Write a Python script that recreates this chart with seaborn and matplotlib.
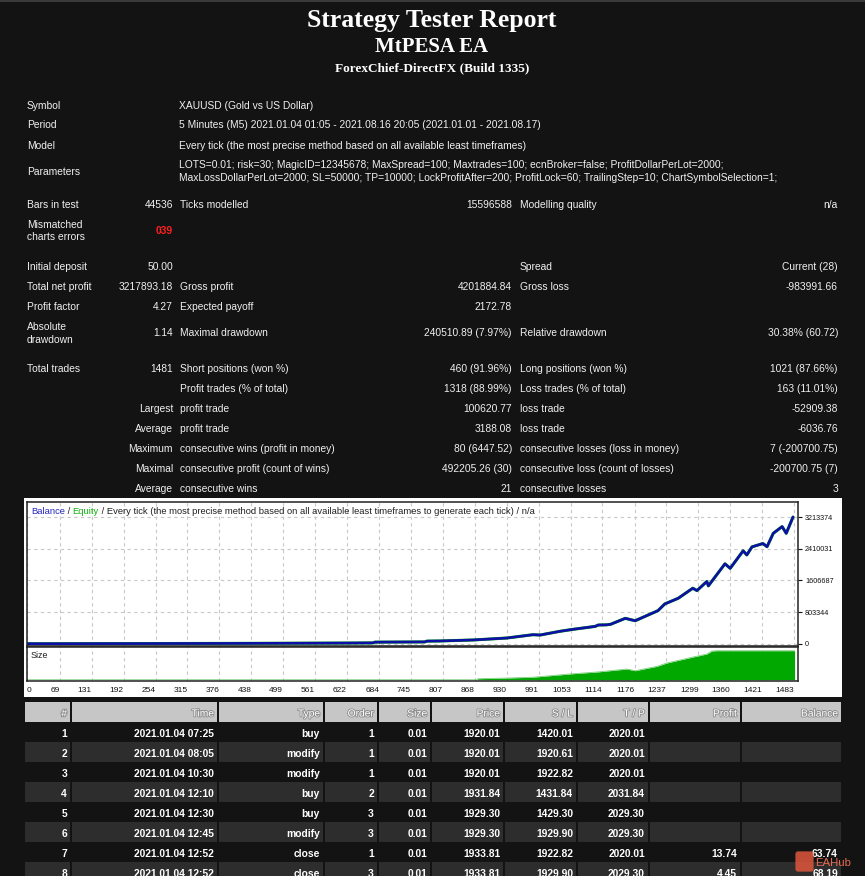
import numpy as np
import pandas as pd
import seaborn as sns
import matplotlib.pyplot as plt
import matplotlib.patheffects as pe
from matplotlib import font_manager
from matplotlib.patches import Rectangle, FancyBboxPatch


# balance curve (trade number -> balance)
trade_idx = [0, 120, 250, 380, 500, 620, 672, 676, 772, 776,
             801, 865, 930, 980, 994, 1032, 1057, 1100, 1106, 1122,
             1130, 1158, 1177, 1221, 1234, 1260, 1288, 1296, 1315, 1318,
             1350, 1360, 1385, 1392, 1402, 1423, 1431, 1443, 1460, 1468,
             1481]
balance = [50, 1800, 4500, 8000, 12000, 17000, 21000, 40000, 46000, 66000,
           70000, 95000, 145000, 229000, 221000, 315000, 365000, 440000, 475000, 480000,
           495000, 645000, 584000, 840000, 1010000, 1155000, 1410000, 1350000, 1580000, 1470000,
           2030000, 1915000, 2360000, 2255000, 2460000, 2545000, 2465000, 2805000, 2975000, 2805000,
           3217943]
equity = balance

# lot size panel
size_idx = [0, 873, 874, 930, 980, 1057, 1104, 1161, 1177, 1219, 1238, 1288, 1315, 1325, 1335, 1484]
size_lots = [0.01, 0.01, 1.7, 2.9, 4.3, 10.3, 13.3, 18.4, 15.5, 23, 28.8, 39, 44.3, 49.5, 50, 50]

xtick_vals = [0, 69, 131, 192, 254, 315, 376, 438, 499, 561, 622, 684, 745, 807,
              868, 930, 991, 1053, 1114, 1176, 1237, 1299, 1360, 1421, 1483]
ytick_vals = [0, 803344, 1606687, 2410031, 3213374]

header_labels = ["Symbol", "Period", "Model"]
header_values = ["XAUUSD (Gold vs US Dollar)",
                 "5 Minutes (M5) 2021.01.04 01:05 - 2021.08.16 20:05 (2021.01.01 - 2021.08.17)",
                 "Every tick (the most precise method based on all available least timeframes)"]
param_lines = ["LOTS=0.01; risk=30; MagicID=12345678; MaxSpread=100; Maxtrades=100; ecnBroker=false; ProfitDollarPerLot=2000;",
               "MaxLossDollarPerLot=2000; SL=50000; TP=10000; LockProfitAfter=200; ProfitLock=60; TrailingStep=10; ChartSymbolSelection=1;"]

stat_rows = [
    ("Initial deposit", "50.00", "", "", "Spread", "Current (28)"),
    ("Total net profit", "3217893.18", "Gross profit", "4201884.84", "Gross loss", "-983991.66"),
    ("Profit factor", "4.27", "Expected payoff", "2172.78", "", ""),
    ("", "1.14", "Maximal drawdown", "240510.89 (7.97%)", "Relative drawdown", "30.38% (60.72)"),
    ("Total trades", "1481", "Short positions (won %)", "460 (91.96%)", "Long positions (won %)", "1021 (87.66%)"),
    ("", "", "Profit trades (% of total)", "1318 (88.99%)", "Loss trades (% of total)", "163 (11.01%)"),
    ("", "Largest", "profit trade", "100620.77", "loss trade", "-52909.38"),
    ("", "Average", "profit trade", "3188.08", "loss trade", "-6036.76"),
    ("", "Maximum", "consecutive wins (profit in money)", "80 (6447.52)", "consecutive losses (loss in money)", "7 (-200700.75)"),
    ("", "Maximal", "consecutive profit (count of wins)", "492205.26 (30)", "consecutive loss (count of losses)", "-200700.75 (7)"),
    ("", "Average", "consecutive wins", "21", "consecutive losses", "3"),
]
stat_baselines = [270, 290, 310, 336.5, 372, 392, 412, 432, 452, 472, 492]

table_cols = ["#", "Time", "Type", "Order", "Size", "Price", "S / L", "T / P", "Profit", "Balance"]
table_rows = [
    ["1", "2021.01.04 07:25", "buy", "1", "0.01", "1920.01", "1420.01", "2020.01", "", ""],
    ["2", "2021.01.04 08:05", "modify", "1", "0.01", "1920.01", "1920.61", "2020.01", "", ""],
    ["3", "2021.01.04 10:30", "modify", "1", "0.01", "1920.01", "1922.82", "2020.01", "", ""],
    ["4", "2021.01.04 12:10", "buy", "2", "0.01", "1931.84", "1431.84", "2031.84", "", ""],
    ["5", "2021.01.04 12:30", "buy", "3", "0.01", "1929.30", "1429.30", "2029.30", "", ""],
    ["6", "2021.01.04 12:45", "modify", "3", "0.01", "1929.30", "1929.90", "2029.30", "", ""],
    ["7", "2021.01.04 12:52", "close", "1", "0.01", "1933.81", "1922.82", "2020.01", "13.74", "63.74"],
    ["8", "2021.01.04 12:52", "close", "3", "0.01", "1933.81", "1929.90", "2029.30", "4.45", "68.19"],
]
col_edges = [24, 71, 218, 324, 378, 431, 504, 577, 649, 741, 842]

BG = "#131313"
FG = "#F0F0F0"
W, H = 865, 876

sns.set_style("white")
names = {f.name for f in font_manager.fontManager.ttflist}
if "Liberation Sans Narrow" in names:
    NARROW, K = "Liberation Sans Narrow", 1.0
else:
    NARROW, K = "Liberation Sans", 0.82
plt.rcParams['font.family'] = [NARROW, 'DejaVu Sans']
SERIF = ['Liberation Serif', 'DejaVu Serif']


def fx(x):
    return x / W


def fy(y):
    return 1 - y / H


def txt(x, y, s, size=9, ha='left', **kw):
    kw.setdefault('color', FG)
    return fig.text(fx(x), fy(y), s, fontsize=size * K, ha=ha, va='baseline', **kw)


def box(x0, y0, x1, y1, color, z=-1):
    fig.patches.append(Rectangle((fx(x0), fy(y1)), (x1 - x0) / W, (y1 - y0) / H,
                                 transform=fig.transFigure, facecolor=color,
                                 edgecolor='none', zorder=z))


fig = plt.figure(figsize=(8.65, 8.76), dpi=100, facecolor=BG)
box(0, 0, W, 1.5, '#3A3A3A')

# titles
fig.text(fx(432), fy(27), "Strategy Tester Report", family=SERIF, weight='bold',
         fontsize=18.5, color='white', ha='center', va='baseline')
fig.text(fx(432), fy(52.5), "MtPESA EA", family=SERIF, weight='bold',
         fontsize=15, color='white', ha='center', va='baseline')
fig.text(fx(432), fy(71.5), "ForexChief-DirectFX (Build 1335)", family=SERIF, weight='bold',
         fontsize=9.5, color='white', ha='center', va='baseline')

# header block
for lab, val, yb in zip(header_labels, header_values, [109, 128.5, 148.5]):
    txt(27, yb, lab)
    txt(179, yb, val)
txt(27, 175, "Parameters")
txt(179, 167.5, param_lines[0])
txt(179, 181, param_lines[1])

txt(27, 208.5, "Bars in test")
txt(173, 208.5, "44536", ha='right')
txt(180, 208.5, "Ticks modelled")
txt(512, 208.5, "15596588", ha='right')
txt(520, 208.5, "Modelling quality")
txt(838, 208.5, "n/a", ha='right')
txt(27, 227.5, "Mismatched")
txt(27, 240.5, "charts errors")
txt(173, 234.5, "039", ha='right', color='#FF1E1E', weight='bold')

for row, yb in zip(stat_rows, stat_baselines):
    l1, v1, l2, v2, l3, v3 = row
    txt(27, yb, l1)
    txt(173, yb, v1, ha='right')
    txt(180, yb, l2)
    txt(512, yb, v2, ha='right')
    txt(520, yb, l3)
    txt(838, yb, v3, ha='right')
txt(27, 330, "Absolute")
txt(27, 343, "drawdown")

# chart box (white card behind both panels)
box(24, 498, 842, 697, 'white')

XMIN, XMAX = 6.0, 1490.6
ax = fig.add_axes([fx(27), fy(645.5), (798 - 27) / W, (645.5 - 502) / H])
ax2 = fig.add_axes([fx(27), fy(681), (798 - 27) / W, (681 - 647) / H])

df = pd.DataFrame({"trade": trade_idx, "balance": balance, "equity": equity})
sns.lineplot(data=df, x="trade", y="equity", ax=ax, color="#00B000", linewidth=2.2, legend=False)
sns.lineplot(data=df, x="trade", y="balance", ax=ax, color="#0F0FA8", linewidth=1.9, legend=False)

sdf = pd.DataFrame({"trade": size_idx, "lots": size_lots})
ax2.fill_between(sdf["trade"], 0, sdf["lots"], color="#00A800", linewidth=0)
sns.lineplot(data=sdf, x="trade", y="lots", ax=ax2, color="#7CCF7C", linewidth=0.6, legend=False)

xpos = [max(v, XMIN) for v in xtick_vals]
for a in (ax, ax2):
    a.set_facecolor('white')
    a.set_xlim(XMIN, XMAX)
    a.set_xticks(xpos)
    a.set_xlabel("")
    a.set_ylabel("")
    for sp in a.spines.values():
        sp.set_color('#222222')
        sp.set_linewidth(1.1)
    a.grid(True, axis='x', linestyle=(0, (3, 3)), color='#C8C8C8', linewidth=0.8)

ax.set_ylim(-45000, 3600000)
ax.yaxis.tick_right()
ax.set_yticks(ytick_vals)
ax.set_yticklabels([str(v) for v in ytick_vals])
ax.grid(True, axis='y', linestyle=(0, (3, 3)), color='#C8C8C8', linewidth=0.8)
ax.tick_params(axis='x', length=0, labelbottom=False)
ax.tick_params(axis='y', length=3, width=0.8, pad=2, labelsize=6.4 * K, colors='#111111', direction='out')

ax2.set_ylim(-2.2, 56.4)
ax2.set_yticks([])
ax2.set_xticklabels([str(v) for v in xtick_vals])
ax2.tick_params(axis='x', length=3, width=0.8, pad=1, labelsize=7.3 * K, colors='#111111', direction='out')
for i, t in enumerate(ax2.get_xticklabels()):
    t.set_ha('left' if i == 0 else 'right')
ax2.text(0.005, 0.75, "Size", transform=ax2.transAxes, fontsize=7.8 * K, color='#202020', va='center')

# chart legend line
LS = 8.2 * K
t1 = ax.text(0.005, 0.915, "Balance", transform=ax.transAxes, fontsize=LS,
             color='#2525C0', va='baseline')
t2 = ax.annotate(" / ", xy=(1, 0), xycoords=t1, va='bottom', fontsize=LS, color='#202020')
t3 = ax.annotate("Equity", xy=(1, 0), xycoords=t2, va='bottom', fontsize=LS, color='#10B010')
ax.annotate(" / Every tick (the most precise method based on all available least timeframes to generate each tick) / n/a",
            xy=(1, 0), xycoords=t3, va='bottom', fontsize=LS, color='#202020')

# deals table
for j in range(len(table_cols)):
    x0, x1 = col_edges[j], col_edges[j + 1]
    box(x0 + 1, 702, x1 - 1, 722, '#C6C6C6')
    txt(x1 - 4, 716.5, table_cols[j], ha='right', color='white',
        path_effects=[pe.withStroke(linewidth=1.3, foreground='#8E8E8E')])

for i, row in enumerate(table_rows):
    top = 722 + 20 * i
    if i % 2 == 1:
        for j in range(len(table_cols)):
            box(col_edges[j] + 1, top, col_edges[j + 1] - 1, top + 20, '#2D2D2D')
    for j, cell in enumerate(row):
        if cell:
            txt(col_edges[j + 1] - 4, top + 15, cell, ha='right', color='white', weight='bold')

# watermark
fig.patches.append(FancyBboxPatch((fx(798), fy(869)), 13 / W, 15 / H, boxstyle="round,pad=0.003",
                                  transform=fig.transFigure, facecolor='#E0573C',
                                  edgecolor='none', alpha=0.85, zorder=5))
txt(815, 866, "EAHub", size=10, color='#E86A50', zorder=6)

fig.savefig("out.png", dpi=100, facecolor=BG)
